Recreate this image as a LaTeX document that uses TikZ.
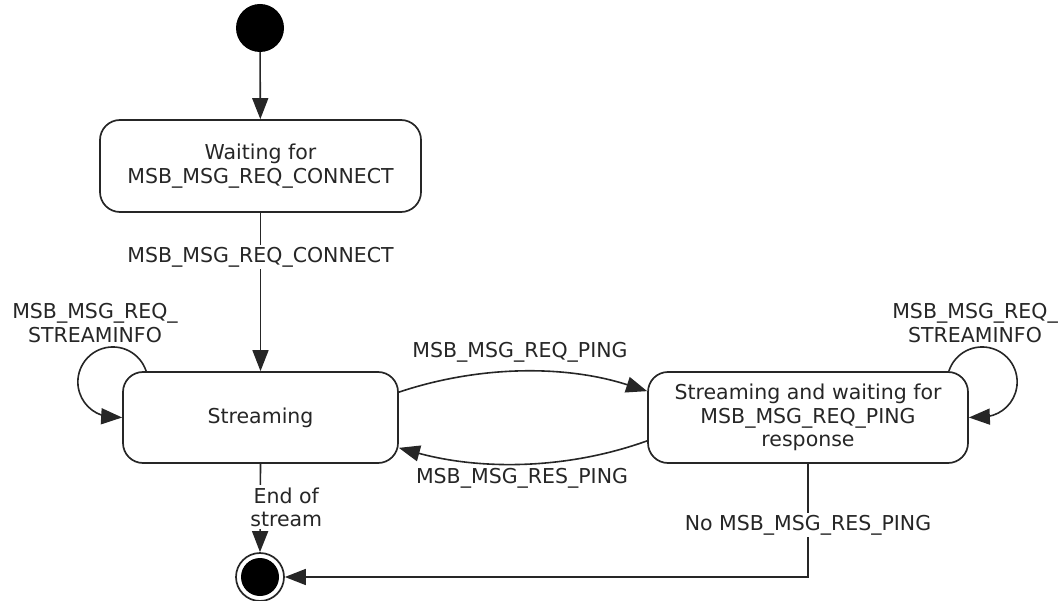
\documentclass[tikz,border=0pt]{standalone}
\usepackage{fontspec}
\setmainfont{DejaVu Sans}
\usetikzlibrary{arrows.meta}
\begin{document}
\begin{tikzpicture}[x=1pt,y=1pt,
  every node/.style={font=\fontsize{20.5}{23.5}\selectfont, text=black!85},
  statebox/.style={draw=black!85, rounded corners=20pt, line width=1.7pt, align=center, inner sep=0pt},
  arr/.style={draw=black!85, line width=1.6pt, -{Triangle[length=21pt,width=16pt]}},
  lbl/.style={fill=white, inner sep=2pt, align=center}]
\useasboundingbox (0,0) rectangle (1059,-601);
% states
\node[circle, fill=black, minimum size=48pt, inner sep=0pt] (i) at (260,-28) {};
\node[statebox, minimum width=321pt, minimum height=92pt] (w) at (260.5,-166) {Waiting for\\MSB\_MSG\_REQ\_CONNECT};
\node[statebox, minimum width=275pt, minimum height=91pt] (s) at (260.5,-417.5) {Streaming};
\node[statebox, minimum width=320pt, minimum height=91pt] (r) at (808,-417.5) {Streaming and waiting for\\MSB\_MSG\_REQ\_PING\\response};
\node[circle, draw=black!85, line width=1.7pt, minimum size=48pt, inner sep=0pt] (f) at (260,-577) {};
\fill[black] (f.center) circle (19pt);
% transitions
\draw[arr] (i) -- (w);
\draw[arr] (w) -- node[lbl, pos=0.28] {MSB\_MSG\_REQ\_CONNECT} (s);
\draw[arr] ([xshift=24pt]s.north west) arc[start angle=18, end angle=270, radius=35pt] -- (s.west);
\node[align=center] (ll) at (95,-323) {MSB\_MSG\_REQ\_\\STREAMINFO};
\draw[arr] ([xshift=-20pt]r.north east) arc[start angle=162, end angle=-90, radius=35pt] -- (r.east);
\node[align=center] (rl) at (975,-323) {MSB\_MSG\_REQ\_\\STREAMINFO};
\draw[arr] ([yshift=-21pt]s.north east) .. controls (480,-365) and (566,-365) .. ([yshift=-20pt]r.north west);
\node (reqp) at (520,-352) {MSB\_MSG\_REQ\_PING};
\draw[arr] ([yshift=23pt]r.south west) .. controls (566,-470) and (480,-470) .. ([yshift=16pt]s.south east);
\node (resp) at (522,-478) {MSB\_MSG\_RES\_PING};
\draw[arr] (s.south) -- node[lbl, pos=0.49, xshift=26pt] {End of\\stream} (f.north);
\draw[arr] (r.south) -- node[lbl, pos=0.54] {No MSB\_MSG\_RES\_PING} (r.south |- f.center) -- (f.east);
\end{tikzpicture}
\end{document}
